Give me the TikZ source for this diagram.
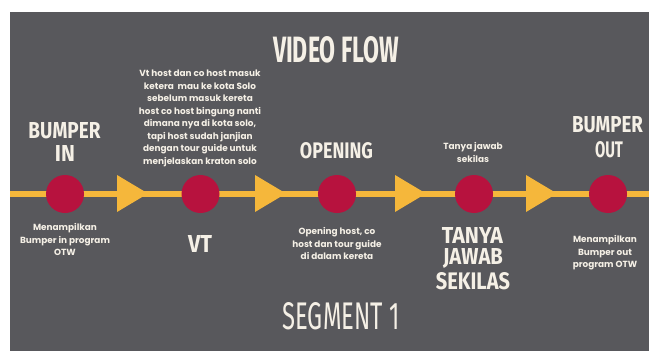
\documentclass[tikz,border=0pt]{standalone}
\usepackage{fontspec}
\usepackage{graphicx}
\setmainfont{Poppins}
\newfontfamily\headfont{Fira Sans}
\newfontfamily\bodyfont{Poppins}
\definecolor{panel}{HTML}{58585C}
\definecolor{cream}{HTML}{F5F0E6}
\definecolor{flowyel}{HTML}{F5B73B}
\definecolor{dotred}{HTML}{B7123E}
\newcommand\myhead[3]{\resizebox{#1pt}{#2pt}{\headfont\bfseries #3}}
\newcommand\myheadlight[3]{\resizebox{#1pt}{#2pt}{\headfont #3}}
\tikzset{
  body/.style={text=cream, font={\bodyfont\bfseries\fontsize{8.9}{12.5}\selectfont}, align=center, inner sep=0pt},
  head/.style={text=cream, inner sep=0pt},
  dot/.style={circle, fill=dotred, minimum size=38pt, inner sep=0pt},
  flowline/.style={draw=flowyel, line width=6pt},
  tri/.style={fill=flowyel}
}
\begin{document}
\begin{tikzpicture}[x=1pt,y=-1pt]
\useasboundingbox (0,0) rectangle (649,351);
\fill[white] (0,0) rectangle (649,351);
\fill[panel] (10,12) rectangle (649,351);
% flow line
\coordinate (ls) at (10,194);
\coordinate (le) at (649,194);
\draw[flowline] (ls) -- (le);
% arrow triangles
\foreach \x in {117,255,395,526}{
  \fill[tri] (\x,175) -- (\x+31,193.5) -- (\x,212) -- cycle;
}
% dots
\node[dot] (c1) at (65,194) {};
\node[dot] (c2) at (200.5,194) {};
\node[dot] (c3) at (337,194) {};
\node[dot] (c4) at (474,194) {};
\node[dot] (c5) at (608,194) {};
% headings
\node[head] (title) at (336,50) {\myhead{126}{26}{VIDEO FLOW}};
\node[head] (bin1) at (64.5,131) {\myhead{72}{16}{BUMPER}};
\node[head] (bin2) at (65,153) {\myhead{20}{16}{IN}};
\node[head] (vt) at (200,243.5) {\myhead{24}{17}{VT}};
\node[head] (open) at (336.5,150.5) {\myhead{73}{16}{OPENING}};
\node[head] (tj1) at (472.5,235) {\myhead{61}{16}{TANYA}};
\node[head] (tj2) at (473,258) {\myhead{60}{16}{JAWAB}};
\node[head] (tj3) at (473,281) {\myhead{74}{17}{SEKILAS}};
\node[head] (bout1) at (607.5,125) {\myhead{71}{16}{BUMPER}};
\node[head] (bout2) at (609,150) {\myhead{28}{16}{OUT}};
\node[head] (seg) at (341,316) {\myheadlight{117}{27}{SEGMENT 1}};
% descriptions
\node[body] (dvt) at (200,118.5) {Vt host dan co host masuk\\ketera\ \ mau ke kota Solo\\sebelum masuk kereta\\host co host bingung nanti\\dimana nya di kota solo,\\tapi host sudah janjian\\dengan tour guide untuk\\menjelaskan kraton solo};
\node[body] (dbin) at (65,239.5) {Menampilkan\\Bumper in program\\OTW};
\node[body] (dopen) at (337,243.5) {Opening host, co\\host dan tour guide\\di dalam kereta};
\node[body] (dtj) at (473,152.5) {Tanya jawab\\sekilas};
\node[body] (dbout) at (605,253) {Menampilkan\\Bumper out\\program OTW};
\end{tikzpicture}
\end{document}
